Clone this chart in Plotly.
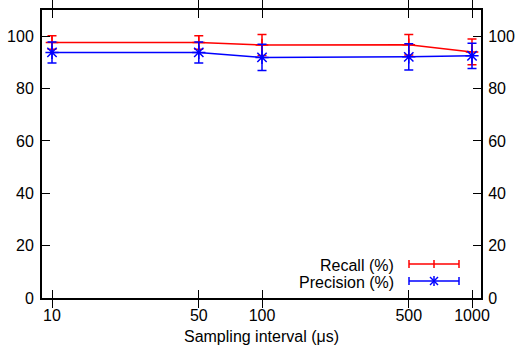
import plotly.graph_objects as go
import numpy as np

intervals = [10, 50, 100, 500, 1000]
tick_labels = ["10", "50", "100", "500", "1000"]
recall = [97.6, 97.6, 96.6, 96.7, 94.0]
recall_err = [2.6, 2.6, 4.0, 3.9, 4.9]
precision = [93.8, 93.8, 91.9, 92.1, 92.5]
precision_err = [4.0, 4.0, 5.0, 5.0, 4.8]
series_names = ["Recall (%)", "Precision (%)"]

RED = "#ff0000"
BLUE = "#0000ff"
FONT = "Liberation Sans, Arial, sans-serif"
FS = 16

fig = go.Figure()
fig.add_trace(go.Scatter(
    x=intervals, y=recall, mode="lines+markers", name=series_names[0],
    line=dict(color=RED, width=1.5),
    marker=dict(symbol="cross-thin", size=9, line=dict(color=RED, width=1.5)),
    error_y=dict(type="data", array=recall_err, color=RED, thickness=1.5, width=4.5),
    showlegend=False,
))
fig.add_trace(go.Scatter(
    x=intervals, y=precision, mode="lines+markers", name=series_names[1],
    line=dict(color=BLUE, width=1.5),
    marker=dict(symbol="asterisk-open", size=11, line=dict(color=BLUE, width=1.5)),
    error_y=dict(type="data", array=precision_err, color=BLUE, thickness=1.5, width=4.5),
    showlegend=False,
))
# invisible trace to activate the right-hand axis
fig.add_trace(go.Scatter(x=[intervals[0]], y=[0], yaxis="y2", mode="markers",
                         marker=dict(opacity=0), showlegend=False, hoverinfo="skip"))

# target plot area (px) 42..481 x 10..298 (page body margin removed below)
W, H = 516, 354
sl, sr, st, sb = 42, 481, 10, 298
ml, mt = sl, st
mr, mb = W - sr, H - sb
pw, ph = sr - sl, sb - st
def px(x): return (x - sl) / pw
def py(y): return 1 - (y - st) / ph

shapes = []
annotations = []
for i, (name, col) in enumerate(zip(series_names, [RED, BLUE])):
    yy = 264 + i * 17
    x0, x1 = 409, 459
    xm = (x0 + x1) / 2
    ln = dict(color=col, width=1.5)
    shapes.append(dict(type="line", xref="paper", yref="paper", x0=px(x0), x1=px(x1),
                       y0=py(yy), y1=py(yy), line=ln))
    for xc in (x0, x1):
        shapes.append(dict(type="line", xref="paper", yref="paper", x0=px(xc), x1=px(xc),
                           y0=py(yy - 4), y1=py(yy + 4), line=ln))
    if i == 0:
        shapes.append(dict(type="line", xref="paper", yref="paper", x0=px(xm), x1=px(xm),
                           y0=py(yy - 4), y1=py(yy + 4), line=ln))
    else:
        for dy in (4, -4):
            shapes.append(dict(type="line", xref="paper", yref="paper", x0=px(xm - 4), x1=px(xm + 4),
                               y0=py(yy - dy), y1=py(yy + dy), line=ln))
        shapes.append(dict(type="line", xref="paper", yref="paper", x0=px(xm), x1=px(xm),
                           y0=py(yy - 5), y1=py(yy + 5), line=ln))
    annotations.append(dict(xref="paper", yref="paper", x=px(396), y=py(yy + 1), text=name,
                            showarrow=False, xanchor="right", yanchor="middle",
                            font=dict(family=FONT, size=FS, color="black")))

axis_common = dict(
    showline=True, linecolor="black", linewidth=2, ticks="inside", ticklen=8,
    tickwidth=1.3, tickcolor="black", showgrid=False, zeroline=False, automargin=False,
    tickfont=dict(family=FONT, size=FS, color="black"),
)

fig.update_layout(
    width=W, height=H,
    margin=dict(l=ml, r=mr, t=mt, b=mb),
    paper_bgcolor="white", plot_bgcolor="white",
    xaxis=dict(type="log", range=[np.log10(10) - 10 / 210, np.log10(1000) + 9 / 210],
               tickvals=intervals, ticktext=tick_labels, mirror="allticks",
               title=dict(text="Sampling interval (μs)", font=dict(family=FONT, size=FS, color="black"),
                          standoff=8),
               ticklabelstandoff=2,
               **axis_common),
    yaxis=dict(range=[0, 110], tickvals=[0, 20, 40, 60, 80, 100], mirror="allticks",
               ticklabelstandoff=3, **axis_common),
    yaxis2=dict(range=[0, 110], tickvals=[0, 20, 40, 60, 80, 100], overlaying="y", side="right",
                ticklabelstandoff=2, **axis_common),
    shapes=shapes, annotations=annotations,
)

fig.write_html("out.html", config={"displayModeBar": False},
               post_script="document.body.style.margin='0';document.body.style.overflow='hidden';")
